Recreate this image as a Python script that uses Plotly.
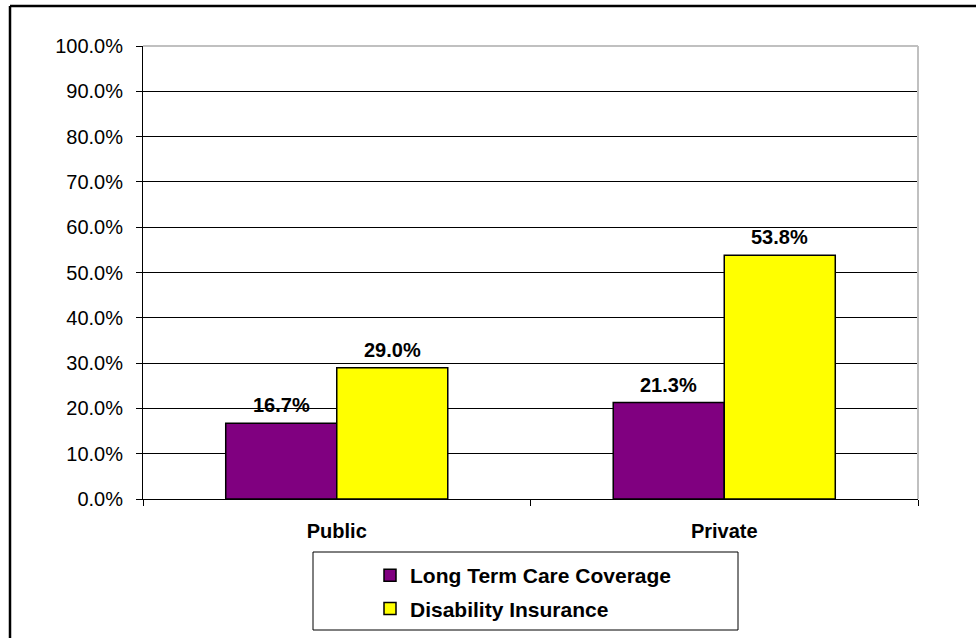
import plotly.graph_objects as go

categories = ["Public", "Private"]
ltc_coverage = [0.167, 0.213]
disability_ins = [0.290, 0.538]
series_names = ["Long Term Care Coverage", "Disability Insurance"]
tick_vals = [i / 10 for i in range(11)]

W, H = 976, 638
L, R, T, B = 143, 58, 46, 139
pw, ph = W - L - R, H - T - B

FONT = "Liberation Sans, Arial, sans-serif"
BAR_HALF = 55.5  # half of one bar's width in px, for label centring

fig = go.Figure()
series = [
    (series_names[0], ltc_coverage, "#800080", "a", -BAR_HALF),
    (series_names[1], disability_ins, "#FFFF00", "b", BAR_HALF),
]
annotations = []
for name, vals, color, grp, shift in series:
    fig.add_trace(go.Bar(
        x=categories, y=vals, name=name, legendgroup=grp,
        marker=dict(color=color, line=dict(color="black", width=1.5)),
    ))
    for cat, v in zip(categories, vals):
        annotations.append(dict(
            x=cat, y=v, xref="x", yref="y", text=f"<b>{v*100:.1f}%</b>",
            showarrow=False, xanchor="center", yanchor="bottom",
            xshift=shift, yshift=5,
            font=dict(family=FONT, size=20, color="black"),
        ))

fig.update_layout(
    width=W, height=H,
    margin=dict(l=L, r=R, t=T, b=B, autoexpand=False),
    paper_bgcolor="white", plot_bgcolor="white",
    barmode="group", bargap=0.427, bargroupgap=0,
    font=dict(family=FONT, size=20, color="black"),
    showlegend=True,
    legend=dict(
        x=(370 - L) / pw, xanchor="left",
        y=-(555 - (T + ph)) / ph, yanchor="top",
        bgcolor="rgba(0,0,0,0)", borderwidth=0,
        font=dict(family=FONT, size=21, color="black", weight="bold"),
        tracegroupgap=3, itemwidth=30,
    ),
    xaxis=dict(
        showgrid=False, showline=True, linecolor="black", linewidth=1,
        ticks="outside", tickson="boundaries", ticklen=6, tickcolor="black",
        ticklabelstandoff=14, automargin=False,
        tickfont=dict(family=FONT, size=20, color="black", weight="bold"),
        fixedrange=True,
    ),
    yaxis=dict(
        range=[0, 1], tickvals=tick_vals, tickformat=".1%",
        showgrid=True, gridcolor="black", gridwidth=1,
        showline=True, linecolor="black", linewidth=1,
        ticks="outside", ticklen=6, tickcolor="black",
        ticklabelstandoff=9, automargin=False,
        tickfont=dict(family=FONT, size=20, color="black"),
        zeroline=False,
    ),
    annotations=annotations,
)

def px_x(p):
    return (p - L) / pw

def px_y(p):
    return (T + ph - p) / ph

shapes = [
    # outer chart frame (left and top edges)
    dict(type="line", xref="paper", yref="paper", x0=px_x(10), x1=px_x(10),
         y0=px_y(H + 5), y1=px_y(6), line=dict(color="black", width=2.5)),
    dict(type="line", xref="paper", yref="paper", x0=px_x(10), x1=px_x(W + 5),
         y0=px_y(6), y1=px_y(6), line=dict(color="black", width=2.5)),
    # plot area frame top and right
    dict(type="line", xref="paper", yref="paper", x0=0, x1=1, y0=1, y1=1,
         line=dict(color="#C0C0C0", width=2)),
    dict(type="line", xref="paper", yref="paper", x0=1, x1=1, y0=0, y1=1,
         line=dict(color="#C0C0C0", width=2)),
    # legend box
    dict(type="rect", xref="paper", yref="paper", x0=px_x(313), x1=px_x(738),
         y0=px_y(630), y1=px_y(552), line=dict(color="black", width=1),
         fillcolor="rgba(0,0,0,0)"),
]
fig.update_layout(shapes=shapes)

fig.write_html("out.html")
